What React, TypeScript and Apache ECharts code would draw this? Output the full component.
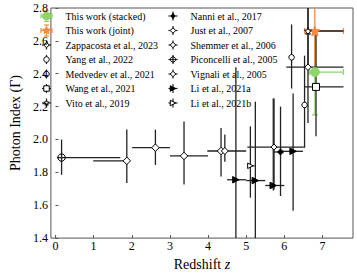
import React, { useEffect, useRef } from "react";
import * as echarts from "echarts";

const FONT = '"Liberation Serif", "Times New Roman", serif';
const INK = "#222";
const GREEN = "#8ed56c";
const ORANGE = "#f28a43";

// rows: [z, gamma, zLow, zHigh, gammaLow, gammaHigh]
const thisWorkStacked = [[6.8, 2.41, 6.65, 7.55, 2.15, 2.66]];
const thisWorkJoint = [[6.8, 2.66, 6.53, 7.55, 2.42, 2.9]];
const zappacosta2023 = [[6.62, 2.44, 6.05, 7.55, 2.1, 2.9]];
const yang2022 = [[6.53, 2.21, 6.53, 6.53, 1.95, 2.51]];
const medvedev2021 = [[6.19, 2.5, 6.19, 6.19, 2.31, 2.7]];
const wang2021 = [[6.83, 2.32, 6.53, 7.55, 2.02, 2.64]];
const vito2019 = [[6.62, 2.66, 6.62, 7.55, 2.44, 2.9]];
const nanni2017 = [[5.9, 1.924, 5.72, 5.95, 1.656, 2.2]];
const just2007 = [
  [1.87, 1.87, 0.99, 1.9, 1.735, 2.06],
  [2.62, 1.95, 2.01, 3.0, 1.845, 2.06],
  [3.37, 1.9, 3.0, 4.0, 1.726, 2.11],
  [4.34, 1.93, 3.98, 5.0, 1.775, 2.07],
];
const shemmer2006 = [[5.73, 1.954, 5.03, 6.53, 1.696, 2.25]];
const piconcelli2005 = [[0.16, 1.89, 0.04, 1.7, 1.785, 2.0]];
const vignali2005 = [[4.44, 1.93, 4.44, 4.44, 1.864, 2.03]];
const li2021a = [
  [4.73, 1.755, 4.5, 5.0, 1.3, 2.44],
  [5.24, 1.75, 5.0, 5.5, 1.3, 2.23],
  [5.71, 1.72, 5.5, 6.0, 1.69, 2.25],
  [6.23, 1.928, 5.92, 6.49, 1.567, 2.28],
];
const li2021b = [[5.11, 1.84, 5.11, 5.22, 1.646, 2.08]];

const xTickValues = [0, 1, 2, 3, 4, 5, 6, 7];

// ---- marker shapes (unit polygons in [-0.5,0.5]) ----
function starPts(n: number, rIn: number): number[][] {
  const pts: number[][] = [];
  for (let i = 0; i < n * 2; i++) {
    const r = i % 2 === 0 ? 0.5 : 0.5 * rIn;
    const a = -Math.PI / 2 + (i * Math.PI) / n;
    pts.push([r * Math.cos(a), r * Math.sin(a)]);
  }
  return pts;
}
function octPts(): number[][] {
  const pts: number[][] = [];
  for (let i = 0; i < 8; i++) {
    const a = Math.PI / 8 + (i * Math.PI) / 4;
    pts.push([0.5 * Math.cos(a), 0.5 * Math.sin(a)]);
  }
  return pts;
}
const SHAPES: Record<string, number[][]> = {
  diamond: [[0, -0.5], [0.5, 0], [0, 0.5], [-0.5, 0]],
  thinDiamond: [[0, -0.5], [0.33, 0], [0, 0.5], [-0.33, 0]],
  rect: [[-0.5, -0.5], [0.5, -0.5], [0.5, 0.5], [-0.5, 0.5]],
  star: starPts(5, 0.45),
  octagon: octPts(),
  triR: [[-0.5, -0.5], [0.5, 0], [-0.5, 0.5]],
};
function toPath(pts: number[][]): string {
  return (
    "path://" +
    pts.map((p, i) => (i === 0 ? "M" : "L") + ((p[0] + 0.5) * 100).toFixed(2) + "," + ((p[1] + 0.5) * 100).toFixed(2)).join("") +
    "Z"
  );
}

type Spec = {
  name: string;
  data: number[][];
  shape: string;
  size: number;
  fill: string;
  stroke: string;
  line: string;
  caps: boolean;
  lx: boolean;
};

const specs: Spec[] = [
  { name: "This work (stacked)", data: thisWorkStacked, shape: "circle", size: 9, fill: GREEN, stroke: GREEN, line: GREEN, caps: true, lx: true },
  { name: "This work (joint)", data: thisWorkJoint, shape: "star", size: 10, fill: ORANGE, stroke: ORANGE, line: ORANGE, caps: true, lx: true },
  { name: "Zappacosta et al., 2023", data: zappacosta2023, shape: "diamond", size: 6.5, fill: "#fff", stroke: "#000", line: INK, caps: false, lx: true },
  { name: "Yang et al., 2022", data: yang2022, shape: "circle", size: 5.5, fill: "#fff", stroke: "#000", line: INK, caps: false, lx: false },
  { name: "Medvedev et al., 2021", data: medvedev2021, shape: "circle", size: 5.5, fill: "#fff", stroke: "#000", line: INK, caps: false, lx: false },
  { name: "Wang et al., 2021", data: wang2021, shape: "rect", size: 7, fill: "#fff", stroke: "#000", line: INK, caps: false, lx: true },
  { name: "Vito et al., 2019", data: vito2019, shape: "star", size: 7, fill: "#fff", stroke: "#000", line: INK, caps: false, lx: true },
  { name: "Nanni et al., 2017", data: nanni2017, shape: "thinDiamond", size: 6, fill: "#000", stroke: "#000", line: INK, caps: false, lx: true },
  { name: "Just et al., 2007", data: just2007, shape: "diamond", size: 7.5, fill: "#fff", stroke: "#000", line: INK, caps: false, lx: true },
  { name: "Shemmer et al., 2006", data: shemmer2006, shape: "diamond", size: 6, fill: "#fff", stroke: "#000", line: INK, caps: false, lx: true },
  { name: "Piconcelli et al., 2005", data: piconcelli2005, shape: "octagon", size: 7, fill: "none", stroke: "#000", line: INK, caps: false, lx: true },
  { name: "Vignali et al., 2005", data: vignali2005, shape: "diamond", size: 7, fill: "#fff", stroke: "#000", line: INK, caps: false, lx: true },
  { name: "Li et al., 2021a", data: li2021a, shape: "triR", size: 6.5, fill: "#000", stroke: "#000", line: INK, caps: false, lx: true },
  { name: "Li et al., 2021b", data: li2021b, shape: "triR", size: 5.5, fill: "#fff", stroke: "#000", line: INK, caps: false, lx: true },
];

function makeErrRender(color: string, caps: boolean) {
  return (params: any, api: any) => {
    const cs = params.coordSys;
    const x = api.value(0), y = api.value(1);
    const xl = api.value(2), xh = api.value(3), yl = api.value(4), yh = api.value(5);
    const clampX = (v: number) => Math.max(cs.x, Math.min(cs.x + cs.width, v));
    const clampY = (v: number) => Math.max(cs.y, Math.min(cs.y + cs.height, v));
    const c = api.coord([x, y]);
    const pxl = api.coord([xl, y])[0];
    const pxh = api.coord([xh, y])[0];
    const pyl = api.coord([x, yl])[1];
    const pyh = api.coord([x, yh])[1];
    const style = { stroke: color, lineWidth: 1.3, fill: "none" };
    const children: any[] = [];
    if (xh > xl) {
      children.push({ type: "line", shape: { x1: clampX(pxl), y1: c[1], x2: clampX(pxh), y2: c[1] }, style });
      if (caps) {
        [pxl, pxh].forEach((px) => {
          if (px >= cs.x && px <= cs.x + cs.width)
            children.push({ type: "line", shape: { x1: px, y1: c[1] - 3, x2: px, y2: c[1] + 3 }, style });
        });
      }
    }
    if (yh > yl) {
      children.push({ type: "line", shape: { x1: c[0], y1: clampY(pyl), x2: c[0], y2: clampY(pyh) }, style });
      if (caps) {
        [pyl, pyh].forEach((py) => {
          if (py >= cs.y && py <= cs.y + cs.height)
            children.push({ type: "line", shape: { x1: c[0] - 3, y1: py, x2: c[0] + 3, y2: py }, style });
        });
      }
    }
    return { type: "group", children };
  };
}

function legendGraphics(): any[] {
  const els: any[] = [];
  const y0 = 16;
  const step = 14.5;
  specs.forEach((s, i) => {
    const col = i < 7 ? 0 : 1;
    const row = i % 7;
    const cx = col === 0 ? 46.5 : 173;
    const tx = col === 0 ? 65.5 : 190.5;
    const cy = y0 + row * step;
    const lstyle = { stroke: s.line, lineWidth: 1.2 };
    const half = s.caps ? 5.5 : 4.5;
    if (s.lx) els.push({ type: "line", shape: { x1: cx - half, y1: cy, x2: cx + half, y2: cy }, style: lstyle });
    els.push({ type: "line", shape: { x1: cx, y1: cy - half, x2: cx, y2: cy + half }, style: lstyle });
    if (s.caps) {
      els.push({ type: "line", shape: { x1: cx - half, y1: cy - 2.5, x2: cx - half, y2: cy + 2.5 }, style: lstyle });
      els.push({ type: "line", shape: { x1: cx + half, y1: cy - 2.5, x2: cx + half, y2: cy + 2.5 }, style: lstyle });
      els.push({ type: "line", shape: { x1: cx - 2.5, y1: cy - half, x2: cx + 2.5, y2: cy - half }, style: lstyle });
      els.push({ type: "line", shape: { x1: cx - 2.5, y1: cy + half, x2: cx + 2.5, y2: cy + half }, style: lstyle });
    }
    const mstyle = { fill: s.fill === "none" ? "transparent" : s.fill, stroke: s.stroke, lineWidth: 1 };
    const msize = Math.min(s.size, s.caps ? 8 : 5.5);
    if (s.shape === "circle") {
      els.push({ type: "circle", shape: { cx, cy, r: msize / 2 }, style: mstyle });
    } else {
      const pts = SHAPES[s.shape].map((p) => [cx + p[0] * msize, cy + p[1] * msize]);
      els.push({ type: "polygon", shape: { points: pts }, style: mstyle });
    }
    els.push({
      type: "text",
      x: tx,
      y: cy,
      style: { text: s.name, fontFamily: FONT, fontSize: 10, fill: "#000", verticalAlign: "middle", align: "left" },
    });
  });
  return els;
}

export default function App() {
  const ref = useRef<HTMLDivElement>(null);
  useEffect(() => {
    if (!ref.current) return;
    const chart = echarts.init(ref.current, undefined, { renderer: "svg" });
    const errSeries = specs.map((s) => ({
      type: "custom",
      name: s.name + " err",
      data: s.data,
      renderItem: makeErrRender(s.line, s.caps),
      encode: { x: 0, y: 1 },
      z: 2,
      silent: true,
    }));
    const markerSeries = specs.map((s) => ({
      type: "scatter",
      name: s.name,
      data: s.data.map((r) => [r[0], r[1]]),
      symbol: s.shape === "circle" ? "circle" : toPath(SHAPES[s.shape]),
      symbolSize: s.size,
      itemStyle: { color: s.fill === "none" ? "transparent" : s.fill, borderColor: s.stroke, borderWidth: 1, opacity: 1 },
      z: 3,
      silent: true,
      clip: true,
    }));
    chart.setOption({
      animation: false,
      backgroundColor: "#fff",
      grid: { left: 37, right: 4, top: 8, bottom: 33, show: true, borderColor: "#555", borderWidth: 1, backgroundColor: "transparent" },
      xAxis: {
        type: "value",
        min: -0.12,
        max: 7.8,
        axisLine: { show: false },
        splitLine: { show: false },
        axisTick: { show: true, inside: true, length: 3, customValues: xTickValues, lineStyle: { color: "#555" } },
        axisLabel: { customValues: xTickValues, fontFamily: FONT, fontSize: 12, color: "#000", margin: 2 },
        name: "Redshift {i|z}",
        nameLocation: "middle",
        nameGap: 14,
        nameTextStyle: {
          fontFamily: FONT,
          fontSize: 14,
          color: "#000",
          rich: { i: { fontFamily: FONT, fontSize: 14, fontStyle: "italic", color: "#000" } },
        },
      },
      yAxis: {
        type: "value",
        min: 1.4,
        max: 2.8,
        interval: 0.2,
        axisLine: { show: false },
        splitLine: { show: false },
        axisTick: { show: true, inside: true, length: 3, lineStyle: { color: "#555" } },
        axisLabel: {
          fontFamily: FONT,
          fontSize: 12,
          color: "#000",
          margin: 3,
          formatter: (v: number) => v.toFixed(1),
        },
        name: "Photon Index (Γ)",
        nameLocation: "middle",
        nameGap: 21,
        nameTextStyle: { fontFamily: FONT, fontSize: 14, color: "#000" },
      },
      graphic: legendGraphics(),
      series: [...errSeries, ...markerSeries],
    });
    return () => chart.dispose();
  }, []);
  return <div ref={ref} style={{ width: 357, height: 276, position: "absolute", left: 0, top: 0 }} />;
}
